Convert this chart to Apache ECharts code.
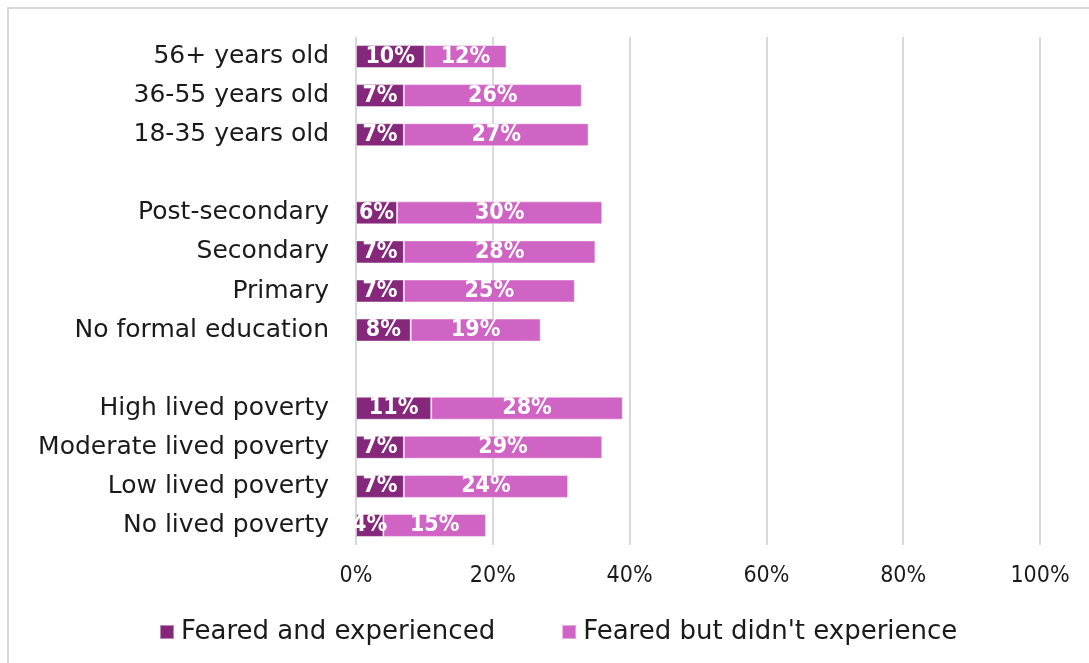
<!DOCTYPE html>
<html>
<head>
<meta charset="utf-8">
<script src="https://cdn.jsdelivr.net/npm/echarts@6/dist/echarts.min.js"></script>
<style>
  html, body { margin: 0; padding: 0; background: #fff; }
  #chart { width: 1089px; height: 663px; }
</style>
</head>
<body>
<div id="chart"></div>
<script>
// Groups are separated by blank rows ('') so the bars sit in three blocks.
const categories = [
  '56+ years old', '36-55 years old', '18-35 years old', '',
  'Post-secondary', 'Secondary', 'Primary', 'No formal education', '',
  'High lived poverty', 'Moderate lived poverty', 'Low lived poverty', 'No lived poverty'
];
const fearedExperienced = [10, 7, 7, null, 6, 7, 7, 8, null, 11, 7, 7, 4];
const fearedNotExperienced = [12, 26, 27, null, 30, 28, 25, 19, null, 28, 29, 24, 15];
const xTicks = { min: 0, max: 100, step: 20 };
const seriesNames = ['Feared and experienced', "Feared but didn't experience"];

const FONT = 'DejaVu Sans';
const FONT_NARROW = 'DejaVu Sans Condensed';
const DARK = '#85287b';
const LIGHT = '#d064c4';

const chart = echarts.init(document.getElementById('chart'));

const labelStyle = {
  show: true,
  position: 'inside',
  color: '#fff',
  fontFamily: FONT_NARROW,
  fontWeight: 'bold',
  fontSize: 23,
  formatter: p => p.value == null ? '' : p.value + '%'
};

chart.setOption({
  animation: false,
  textStyle: { fontFamily: FONT },
  graphic: [{
    type: 'rect',
    shape: { x: 8, y: 8, width: 1200, height: 800 },
    style: { fill: 'none', stroke: '#d9d9d9', lineWidth: 2 },
    silent: true
  }],
  grid: { left: 356, right: 49, top: 37, bottom: 118, containLabel: false },
  xAxis: {
    type: 'value',
    min: xTicks.min,
    max: xTicks.max,
    interval: xTicks.step,
    axisLine: { show: false },
    axisTick: { show: false },
    splitLine: { show: true, lineStyle: { color: '#d9d9d9', width: 2 } },
    axisLabel: {
      formatter: '{value}%',
      color: '#1a1a1a',
      fontSize: 23,
      fontFamily: FONT_NARROW,
      margin: 20
    }
  },
  yAxis: {
    type: 'category',
    data: categories,
    inverse: true,
    axisLine: { show: false },
    axisTick: { show: false },
    splitLine: { show: false },
    axisLabel: {
      color: '#1a1a1a',
      fontSize: 25,
      fontFamily: FONT,
      margin: 27
    }
  },
  legend: {
    top: 614,
    left: 154,
    itemWidth: 14,
    itemHeight: 14,
    itemGap: 66,
    icon: 'rect',
    textStyle: { color: '#1a1a1a', fontSize: 26, fontFamily: FONT, padding: [0, 0, 0, 2] },
    data: seriesNames
  },
  series: [
    {
      name: seriesNames[0],
      type: 'bar',
      stack: 'total',
      data: fearedExperienced,
      barWidth: 23,
      itemStyle: { color: DARK, borderColor: 'rgba(255,255,255,0.45)', borderWidth: 1 },
      label: labelStyle
    },
    {
      name: seriesNames[1],
      type: 'bar',
      stack: 'total',
      data: fearedNotExperienced,
      barWidth: 23,
      itemStyle: { color: LIGHT, borderColor: 'rgba(255,255,255,0.45)', borderWidth: 1 },
      label: labelStyle
    }
  ]
});
</script>
</body>
</html>
